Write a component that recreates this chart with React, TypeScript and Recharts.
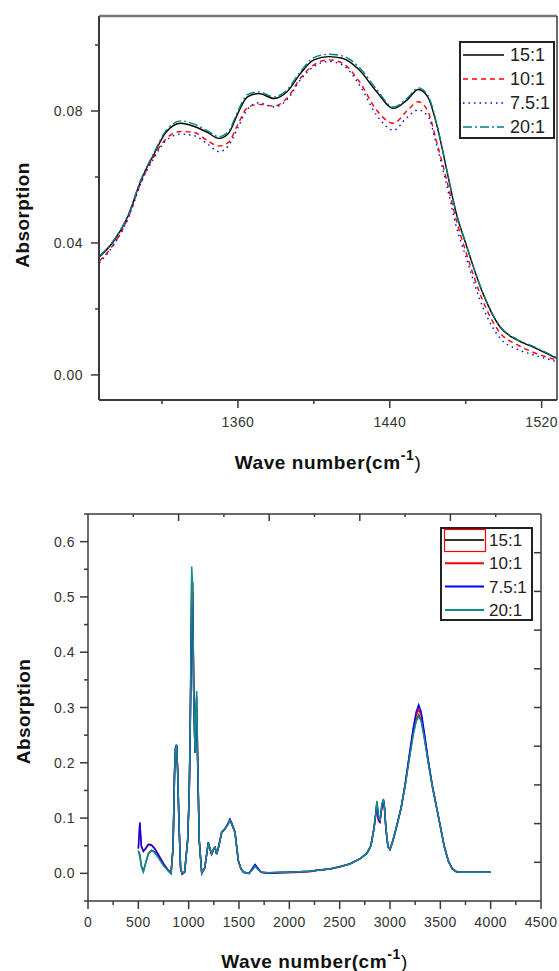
import { LineChart, Line, XAxis, YAxis, Legend, Label } from "recharts";

// ---- upper panel: zoom on 1290-1530 cm-1 ----
const topWave = [1287, 1295, 1302, 1309, 1316, 1322, 1330, 1337, 1344, 1350, 1355, 1360, 1365, 1371, 1379, 1386, 1393, 1400, 1408, 1415, 1424, 1433, 1442, 1449, 1455, 1460, 1465, 1470, 1475, 1480, 1489, 1498, 1507, 1515, 1528];
const top15 = [0.0358, 0.0409, 0.048, 0.0591, 0.0672, 0.0735, 0.0763, 0.0753, 0.0735, 0.0717, 0.0732, 0.0793, 0.0843, 0.0853, 0.0838, 0.0859, 0.0914, 0.0955, 0.0965, 0.096, 0.0924, 0.0859, 0.0808, 0.0833, 0.0865, 0.0843, 0.0752, 0.0621, 0.049, 0.0399, 0.0248, 0.0146, 0.0106, 0.0086, 0.005];
const top10 = [0.0345, 0.04, 0.0475, 0.0585, 0.0665, 0.0715, 0.0738, 0.0735, 0.071, 0.0694, 0.0705, 0.076, 0.081, 0.082, 0.0815, 0.084, 0.09, 0.094, 0.0955, 0.0945, 0.0889, 0.0803, 0.0763, 0.08, 0.0828, 0.08, 0.07, 0.059, 0.047, 0.0375, 0.0225, 0.0128, 0.0092, 0.007, 0.0045];
const top75 = [0.034, 0.0398, 0.0472, 0.0583, 0.066, 0.071, 0.073, 0.0725, 0.07, 0.0677, 0.0695, 0.075, 0.0805, 0.0825, 0.0812, 0.0835, 0.0895, 0.0935, 0.095, 0.094, 0.0879, 0.0788, 0.0742, 0.078, 0.0803, 0.0785, 0.069, 0.0575, 0.045, 0.036, 0.0205, 0.0112, 0.0078, 0.0062, 0.004];
const top20 = [0.036, 0.0412, 0.0483, 0.0594, 0.0676, 0.074, 0.077, 0.076, 0.074, 0.0722, 0.0738, 0.08, 0.085, 0.0858, 0.0843, 0.0865, 0.092, 0.0962, 0.0972, 0.0967, 0.0932, 0.0866, 0.0812, 0.0838, 0.087, 0.0848, 0.0755, 0.0623, 0.0492, 0.04, 0.025, 0.0148, 0.0108, 0.0088, 0.0052];
const topXTicks = [1320, 1360, 1400, 1440, 1480, 1520];
const topXMajor = [1360, 1440, 1520];
const topYTicks = [0, 0.02, 0.04, 0.06, 0.08, 0.1];
const topYMajor = [0, 0.04, 0.08];

// ---- lower panel: full spectrum ----
const bottomWave = [500, 515, 530, 550, 575, 600, 630, 660, 700, 750, 800, 825, 845, 860, 870, 880, 890, 905, 920, 935, 960, 990, 1005, 1015, 1030, 1040, 1050, 1063, 1072, 1080, 1090, 1105, 1130, 1160, 1195, 1210, 1228, 1250, 1262, 1278, 1300, 1328, 1360, 1390, 1410, 1430, 1460, 1493, 1520, 1545, 1600, 1640, 1660, 1685, 1720, 1800, 1900, 2000, 2100, 2200, 2300, 2400, 2500, 2600, 2700, 2770, 2810, 2840, 2860, 2870, 2885, 2900, 2920, 2935, 2945, 2960, 2980, 3000, 3030, 3070, 3110, 3150, 3190, 3230, 3260, 3285, 3310, 3340, 3380, 3420, 3460, 3500, 3540, 3580, 3620, 3660, 3700, 3800, 3900, 4000];
const bottom15 = [
  0.041, 0.034, 0.014, 0.004, 0.02, 0.036, 0.042, 0.039, 0.029, 0.015,
  0.004, 0.0, 0.047, 0.185, 0.228, 0.232, 0.188, 0.083, 0.01, 0.0,
  0.003, 0.06, 0.14, 0.255, 0.525, 0.525, 0.33, 0.218, 0.3, 0.32,
  0.2, 0.06, 0.0, 0.01, 0.055, 0.045, 0.035, 0.045, 0.047, 0.035,
  0.05, 0.074, 0.08, 0.088, 0.096, 0.088, 0.074, 0.023, 0.008, 0.002,
  0.0, 0.009, 0.013, 0.008, 0.002, 0.001, 0.002, 0.002, 0.003, 0.004,
  0.006, 0.008, 0.012, 0.017, 0.026, 0.036, 0.05, 0.08, 0.11, 0.13,
  0.1, 0.095, 0.125, 0.133, 0.12, 0.08, 0.048, 0.043, 0.06, 0.088,
  0.118, 0.158, 0.207, 0.252, 0.277, 0.287, 0.277, 0.247, 0.201, 0.158,
  0.122, 0.085, 0.048, 0.022, 0.008, 0.003, 0.002, 0.002, 0.002, 0.002,
];
const bottom10 = [
  0.045, 0.092, 0.048, 0.04, 0.046, 0.053, 0.052, 0.046, 0.034, 0.018,
  0.005, 0.0, 0.047, 0.185, 0.228, 0.232, 0.188, 0.083, 0.008, -0.002,
  0.002, 0.06, 0.14, 0.255, 0.5, 0.51, 0.33, 0.218, 0.29, 0.3,
  0.2, 0.06, 0.0, 0.01, 0.056, 0.045, 0.034, 0.044, 0.047, 0.035,
  0.05, 0.074, 0.08, 0.089, 0.097, 0.089, 0.074, 0.023, 0.008, 0.002,
  0.0, 0.01, 0.015, 0.009, 0.002, 0.0, 0.001, 0.001, 0.002, 0.003,
  0.006, 0.008, 0.012, 0.017, 0.026, 0.036, 0.05, 0.08, 0.108, 0.125,
  0.095, 0.092, 0.12, 0.13, 0.118, 0.08, 0.048, 0.043, 0.06, 0.088,
  0.118, 0.16, 0.21, 0.258, 0.285, 0.297, 0.285, 0.252, 0.203, 0.158,
  0.122, 0.085, 0.048, 0.022, 0.008, 0.003, 0.002, 0.002, 0.002, 0.002,
];
const bottom75 = [
  0.045, 0.092, 0.05, 0.04, 0.045, 0.052, 0.051, 0.045, 0.033, 0.017,
  0.005, 0.0, 0.047, 0.185, 0.228, 0.232, 0.188, 0.083, 0.009, -0.001,
  0.002, 0.06, 0.14, 0.25, 0.487, 0.49, 0.33, 0.218, 0.27, 0.28,
  0.19, 0.06, 0.0, 0.01, 0.056, 0.046, 0.035, 0.045, 0.047, 0.035,
  0.05, 0.074, 0.081, 0.09, 0.098, 0.09, 0.075, 0.023, 0.008, 0.002,
  0.0, 0.011, 0.016, 0.01, 0.002, 0.0, 0.001, 0.002, 0.003, 0.004,
  0.006, 0.008, 0.012, 0.017, 0.026, 0.036, 0.05, 0.08, 0.11, 0.128,
  0.098, 0.094, 0.122, 0.132, 0.118, 0.08, 0.048, 0.043, 0.06, 0.088,
  0.118, 0.161, 0.212, 0.262, 0.292, 0.305, 0.292, 0.256, 0.205, 0.159,
  0.122, 0.085, 0.048, 0.022, 0.008, 0.003, 0.002, 0.002, 0.002, 0.002,
];
const bottom20 = [
  0.041, 0.03, 0.012, 0.002, 0.02, 0.035, 0.041, 0.038, 0.028, 0.014,
  0.004, 0.0, 0.047, 0.18, 0.225, 0.233, 0.19, 0.083, 0.01, 0.0,
  0.003, 0.06, 0.14, 0.26, 0.555, 0.52, 0.33, 0.218, 0.3, 0.33,
  0.2, 0.06, 0.0, 0.01, 0.055, 0.045, 0.035, 0.045, 0.047, 0.035,
  0.05, 0.074, 0.08, 0.088, 0.096, 0.088, 0.074, 0.023, 0.008, 0.002,
  0.0, 0.008, 0.013, 0.008, 0.002, 0.001, 0.002, 0.002, 0.003, 0.004,
  0.006, 0.008, 0.012, 0.017, 0.026, 0.036, 0.05, 0.08, 0.11, 0.131,
  0.105, 0.095, 0.125, 0.135, 0.12, 0.08, 0.048, 0.043, 0.06, 0.088,
  0.118, 0.158, 0.205, 0.25, 0.275, 0.284, 0.275, 0.245, 0.2, 0.158,
  0.122, 0.085, 0.048, 0.022, 0.008, 0.003, 0.002, 0.002, 0.002, 0.002,
];
const bottomXTicks = [0, 250, 500, 750, 1000, 1250, 1500, 1750, 2000, 2250, 2500, 2750, 3000, 3250, 3500, 3750, 4000, 4250, 4500];
const bottomXMajor = [0, 500, 1000, 1500, 2000, 2500, 3000, 3500, 4000, 4500];
const bottomYTicks = [-0.05, 0, 0.05, 0.1, 0.15, 0.2, 0.25, 0.3, 0.35, 0.4, 0.45, 0.5, 0.55, 0.6, 0.65];
const bottomYMajor = [0, 0.1, 0.2, 0.3, 0.4, 0.5, 0.6];
// opposite-frame ticks (no labels) on the top and right edges of the lower panel
const frameTopTicks = [450, 900, 1350, 1800, 2250, 2700, 3150, 3600, 4050];
const frameTopMajor = [900, 1800, 2700, 3600];
const frameRightTicks = [0.02, 0.09, 0.16, 0.23, 0.3, 0.37, 0.44, 0.51, 0.58];

const seriesNames = ["15:1", "10:1", "7.5:1", "20:1"];

const FONT = '"Liberation Sans", Arial, sans-serif';
const AXIS = "#3a3a3a";
const TXT = "#333";

const topSeries = [
  { key: "s15", color: "#000000", dash: undefined as string | undefined },
  { key: "s10", color: "#ff0000", dash: "5 4" },
  { key: "s75", color: "#0000ff", dash: "1.5 4" },
  { key: "s20", color: "#008080", dash: "9 3 2 3" },
];
const bottomSeries = [
  { key: "s15", color: "#333333" },
  { key: "s10", color: "#ff0000" },
  { key: "s75", color: "#0000ff" },
  { key: "s20", color: "#118c8c" },
];

const topData = topWave.map((w, i) => ({ wave: w, s15: top15[i], s10: top10[i], s75: top75[i], s20: top20[i] }));
const bottomData = bottomWave.map((w, i) => ({ wave: w, s15: bottom15[i], s10: bottom10[i], s75: bottom75[i], s20: bottom20[i] }));

const isMajor = (v: number, list: number[]) => list.some((m) => Math.abs(m - v) < 1e-6);

const leftTick = (majors: number[], gap: number, digits: number) => (p: any) => {
  const v = p.payload.value;
  const major = isMajor(v, majors);
  return (
    <g>
      <line x1={p.x} x2={p.x - (major ? 8 : 4)} y1={p.y} y2={p.y} stroke={AXIS} strokeWidth={1.5} />
      {major && (
        <text x={p.x - gap} y={p.y} dy="0.36em" textAnchor="end" fontSize={14} letterSpacing={0.5} fill={TXT} fontFamily={FONT}>
          {Math.abs(v) < 1e-9 ? (0).toFixed(digits) : v.toFixed(digits)}
        </text>
      )}
    </g>
  );
};

const bottomTick = (majors: number[], gap: number) => (p: any) => {
  const v = p.payload.value;
  const major = isMajor(v, majors);
  return (
    <g>
      <line x1={p.x} x2={p.x} y1={p.y} y2={p.y + (major ? 8 : 4)} stroke={AXIS} strokeWidth={1.5} />
      {major && (
        <text x={p.x} y={p.y + gap} dy="0.36em" textAnchor="middle" fontSize={14} letterSpacing={0.4} fill={TXT} fontFamily={FONT}>
          {v}
        </text>
      )}
    </g>
  );
};

const topInTick = (p: any) => {
  const major = isMajor(p.payload.value, frameTopMajor);
  return <line x1={p.x} x2={p.x} y1={p.y} y2={p.y + (major ? 7 : 3)} stroke={AXIS} strokeWidth={1.5} />;
};

const rightInTick = (p: any) => (
  <line x1={p.x} x2={p.x - 7} y1={p.y} y2={p.y} stroke={AXIS} strokeWidth={1.5} />
);

const noTick = () => <g />;

const xTitle = (dyBase: number) => (props: any) => {
  const vb = props.viewBox;
  return (
    <text x={vb.x + vb.width / 2} y={vb.y + dyBase} textAnchor="middle" fontSize={19} letterSpacing={0.6} fontWeight="bold" fill="#111" fontFamily={FONT}>
      Wave number(cm
      <tspan dy={-9} fontSize={14}>-1</tspan>
      <tspan dy={9} fontSize={19} fontWeight="normal">)</tspan>
    </text>
  );
};

const yTitle = (x: number, shift: number) => (props: any) => {
  const vb = props.viewBox;
  const cy = vb.y + vb.height / 2 + shift;
  return (
    <text x={x} y={cy} transform={`rotate(-90, ${x}, ${cy})`} textAnchor="middle" fontSize={19} letterSpacing={0.4} fontWeight="bold" fill="#111" fontFamily={FONT}>
      Absorption
    </text>
  );
};

const TopLegend = () => (
  <svg width={96} height={98} style={{ display: "block" }}>
    <rect x={1} y={1} width={94} height={96} fill="#fff" stroke="#222" strokeWidth={2} />
    {topSeries.map((s, i) => (
      <g key={s.key}>
        <line x1={4} x2={45} y1={14 + i * 24} y2={14 + i * 24} stroke={s.color} strokeWidth={1.5} strokeDasharray={s.dash} />
        <text x={51} y={14 + i * 24} dy="0.36em" fontSize={18} fill="#222" fontFamily={FONT}>
          {seriesNames[i]}
        </text>
      </g>
    ))}
  </svg>
);

const BottomLegend = () => (
  <svg width={93} height={94} style={{ display: "block" }}>
    <rect x={1} y={1} width={91} height={92} fill="#fff" stroke="#222" strokeWidth={2} />
    <rect x={4.5} y={2.5} width={41} height={22} fill="none" stroke="#ff0000" strokeWidth={1.2} />
    {bottomSeries.map((s, i) => (
      <g key={s.key}>
        <line x1={5} x2={44} y1={13 + i * 23.3} y2={13 + i * 23.3} stroke={s.color} strokeWidth={2} />
        <text x={49} y={13 + i * 23.3} dy="0.36em" fontSize={17} fill="#222" fontFamily={FONT}>
          {seriesNames[i]}
        </text>
      </g>
    ))}
  </svg>
);

// the last series (20:1) is drawn against the twin top/right axes, which share the main axes' domains
export default function App() {
  return (
    <div style={{ position: "absolute", left: 0, top: 0, width: 559, height: 971, background: "#fff", fontFamily: FONT }}>
      <LineChart width={559} height={480} data={topData} margin={{ top: 15, right: 1, bottom: 0, left: 0 }}>
        <XAxis
          dataKey="wave"
          type="number"
          domain={[1286.8, 1528.1]}
          allowDataOverflow
          ticks={topXTicks}
          interval={0}
          height={80}
          tickSize={0}
          tickMargin={0}
          tickLine={false}
          axisLine={{ stroke: AXIS, strokeWidth: 2 }}
          tick={bottomTick(topXMajor, 22)}
        >
          <Label content={xTitle(69)} />
        </XAxis>
        <XAxis xAxisId="twin" orientation="top" dataKey="wave" type="number" domain={[1286.8, 1528.1]} allowDataOverflow ticks={[1300]} interval={0} height={1} tickSize={0} tickMargin={0} tickLine={false} axisLine={{ stroke: "#777", strokeWidth: 2.5 }} tick={noTick} />
        <YAxis
          type="number"
          domain={[-0.0076, 0.1088]}
          allowDataOverflow
          ticks={topYTicks}
          interval={0}
          width={99}
          tickSize={0}
          tickMargin={0}
          tickLine={false}
          axisLine={{ stroke: AXIS, strokeWidth: 2 }}
          tick={leftTick(topYMajor, 16, 2)}
        >
          <Label content={yTitle(29, 7)} />
        </YAxis>
        <YAxis yAxisId="twin" orientation="right" type="number" domain={[-0.0076, 0.1088]} allowDataOverflow ticks={[0.05]} interval={0} width={1} tickSize={0} tickMargin={0} tickLine={false} axisLine={{ stroke: AXIS, strokeWidth: 1.5 }} tick={noTick} />
        <Legend layout="vertical" align="center" verticalAlign="middle" content={() => <TopLegend />} wrapperStyle={{ left: 459, top: 41, width: 96, height: 98 }} />
        {topSeries.map((s, i) => (
          <Line
            key={s.key}
            dataKey={s.key}
            name={seriesNames[i]}
            xAxisId={i === 3 ? "twin" : 0}
            yAxisId={i === 3 ? "twin" : 0}
            type="monotone"
            stroke={s.color}
            strokeWidth={1.4}
            strokeDasharray={s.dash}
            dot={false}
            activeDot={false}
            isAnimationActive={false}
          />
        ))}
      </LineChart>
      <LineChart width={559} height={491} data={bottomData} margin={{ top: 33, right: 17, bottom: 0, left: 0 }}>
        <XAxis
          dataKey="wave"
          type="number"
          domain={[0, 4500]}
          allowDataOverflow
          ticks={bottomXTicks}
          interval={0}
          height={70}
          tickSize={0}
          tickMargin={0}
          tickLine={false}
          axisLine={{ stroke: AXIS, strokeWidth: 1.5 }}
          tick={bottomTick(bottomXMajor, 21)}
        >
          <Label content={xTitle(67)} />
        </XAxis>
        <XAxis xAxisId="twin" orientation="top" dataKey="wave" type="number" domain={[0, 4500]} allowDataOverflow ticks={frameTopTicks} interval={0} height={1} tickSize={0} tickMargin={0} tickLine={false} axisLine={{ stroke: AXIS, strokeWidth: 1.5 }} tick={topInTick} />
        <YAxis
          type="number"
          domain={[-0.05, 0.65]}
          allowDataOverflow
          ticks={bottomYTicks}
          interval={0}
          width={88}
          tickSize={0}
          tickMargin={0}
          tickLine={false}
          axisLine={{ stroke: AXIS, strokeWidth: 1.5 }}
          tick={leftTick(bottomYMajor, 13, 1)}
        >
          <Label content={yTitle(30, 4)} />
        </YAxis>
        <YAxis yAxisId="twin" orientation="right" type="number" domain={[-0.05, 0.65]} allowDataOverflow ticks={frameRightTicks} interval={0} width={1} tickSize={0} tickMargin={0} tickLine={false} axisLine={{ stroke: AXIS, strokeWidth: 1.5 }} tick={rightInTick} />
        <Legend layout="vertical" align="center" verticalAlign="middle" content={() => <BottomLegend />} wrapperStyle={{ left: 440, top: 47, width: 93, height: 94 }} />
        {bottomSeries.map((s, i) => (
          <Line
            key={s.key}
            dataKey={s.key}
            name={seriesNames[i]}
            xAxisId={i === 3 ? "twin" : 0}
            yAxisId={i === 3 ? "twin" : 0}
            type="linear"
            stroke={s.color}
            strokeWidth={1.5}
            dot={false}
            activeDot={false}
            isAnimationActive={false}
          />
        ))}
      </LineChart>
    </div>
  );
}
